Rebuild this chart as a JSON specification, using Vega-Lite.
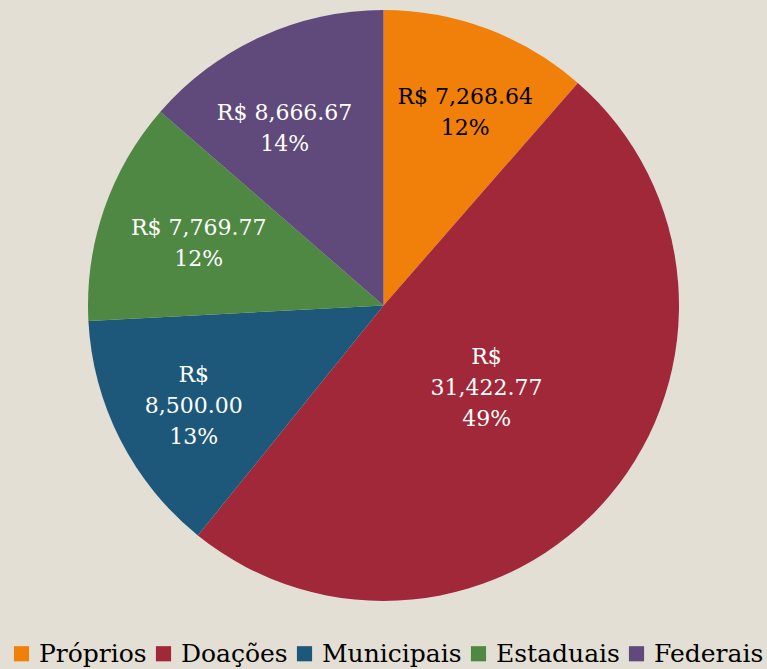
{
  "$schema": "https://vega.github.io/schema/vega-lite/v6.json",
  "width": 767,
  "height": 611,
  "padding": 0,
  "autosize": {"type": "pad"},
  "background": "#e4dfd4",
  "config": {"view": {"stroke": null}, "font": "DejaVu Serif"},
  "data": {"values": [
    {"cat": "Próprios", "value": 7268.64, "ord": 1, "label": ["R$ 7,268.64", "12%"]},
    {"cat": "Doações", "value": 31422.77, "ord": 2, "label": ["R$", "31,422.77", "49%"]},
    {"cat": "Municipais", "value": 8500.00, "ord": 3, "label": ["R$", "8,500.00", "13%"]},
    {"cat": "Estaduais", "value": 7769.77, "ord": 4, "label": ["R$ 7,769.77", "12%"]},
    {"cat": "Federais", "value": 8666.67, "ord": 5, "label": ["R$ 8,666.67", "14%"]}
  ]},
  "encoding": {
    "theta": {"field": "value", "type": "quantitative", "stack": true},
    "order": {"field": "ord", "type": "quantitative"}
  },
  "layer": [
    {
      "mark": {"type": "arc", "radius": 295.5},
      "encoding": {
        "color": {
          "field": "cat", "type": "nominal",
          "sort": ["Próprios", "Doações", "Municipais", "Estaduais", "Federais"],
          "scale": {"domain": ["Próprios", "Doações", "Municipais", "Estaduais", "Federais"],
                    "range": ["#F0800A", "#A12838", "#1D587B", "#4F8842", "#5F4A7B"]},
          "legend": {
            "title": null, "orient": "bottom", "direction": "horizontal",
            "symbolType": "square", "symbolSize": 230, "symbolStrokeWidth": 0,
            "labelFontSize": 25, "labelColor": "black", "labelFont": "DejaVu Serif",
            "columnPadding": 4, "labelOffset": 5, "symbolOffset": 0, "offset": 21, "padding": 9,
            "labelLimit": 300
          }
        }
      }
    },
    {
      "mark": {"type": "text", "radius": 207, "dx": 9, "dy": -14.5, "fontSize": 22, "lineHeight": 31, "align": "center", "baseline": "middle", "color": "black"},
      "encoding": {
        "text": {"condition": {"test": "datum.cat === 'Próprios'", "field": "label"}, "value": ""}
      }
    },
    {
      "mark": {"type": "text", "radius": 207, "dx": 11, "dy": -10.5, "fontSize": 22, "lineHeight": 31, "align": "center", "baseline": "middle", "color": "white"},
      "encoding": {
        "text": {"condition": {"test": "datum.cat === 'Estaduais'", "field": "label"}, "value": ""}
      }
    },
    {
      "mark": {"type": "text", "radius": 207, "dx": -13, "dy": -4.5, "fontSize": 22, "lineHeight": 31, "align": "center", "baseline": "middle", "color": "white"},
      "encoding": {
        "text": {"condition": {"test": "datum.cat === 'Federais'", "field": "label"}, "value": ""}
      }
    },
    {
      "mark": {"type": "text", "radius": 213, "dy": -27, "fontSize": 22, "lineHeight": 31, "align": "center", "baseline": "middle", "color": "white"},
      "encoding": {
        "text": {"condition": {"test": "datum.cat === 'Municipais'", "field": "label"}, "value": ""}
      }
    },
    {
      "mark": {"type": "text", "radius": 132, "dx": 2, "dy": -33, "fontSize": 22, "lineHeight": 31, "align": "center", "baseline": "middle", "color": "white"},
      "encoding": {
        "text": {"condition": {"test": "datum.cat === 'Doações'", "field": "label"}, "value": ""}
      }
    }
  ]
}
